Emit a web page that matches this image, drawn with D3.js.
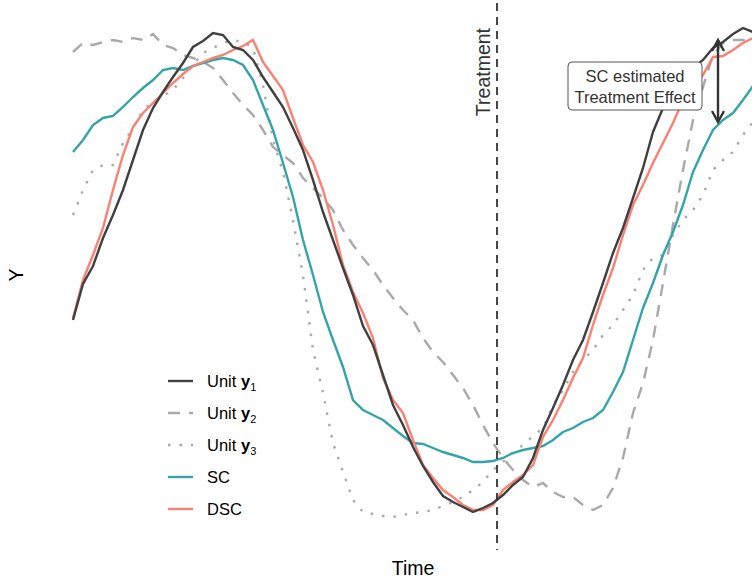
<!DOCTYPE html>
<html>
<head>
<meta charset="utf-8">
<script src="https://cdn.jsdelivr.net/npm/d3@7"></script>
<style>
  body { margin: 0; background: #fff; }
  text { font-family: "Liberation Sans", Arial, sans-serif; }
</style>
</head>
<body>
<div id="plot-container"></div>
<script>

// one value per time step (69 steps)
var unitY1 = [44, 51.2, 54.8, 60.4, 65, 70, 76, 82, 86.4, 89.6,
              92.6, 95.4, 98.6, 99.8, 101.4, 101, 98.6, 98, 96, 92.6,
              89.6, 86.6, 82.4, 78, 72, 65.6, 60, 54.4, 49, 42.8,
              39, 33, 27, 23, 18.6, 14.8, 11.6, 8.8, 7.6, 6.6,
              5.6, 6.4, 7.4, 9, 11, 12.6, 16.4, 22, 26.4, 31,
              36, 40, 45.6, 51.4, 57.4, 62.4, 68.4, 74.4, 81.6, 86.4,
              90, 92.8, 94.4, 96, 98.4, 99.6, 101.2, 102.4, 101.6];

var unitY2 = [97.6, 99.4, 99, 99.6, 100, 99.6, 100.4, 100, 101.2, 99,
              98.4, 97, 96.4, 95.6, 94.4, 92, 89.4, 87, 85, 82,
              78.6, 77, 75.4, 72.4, 70.4, 68.4, 66, 62, 59, 56.4,
              54, 51, 48.4, 46, 44, 40.4, 37.6, 35.6, 33, 30.4,
              27, 23, 19.4, 16.4, 14, 12, 10.6, 11.4, 9.6, 8.6,
              8.6, 7, 6, 7, 10.4, 16.4, 25.4, 31.4, 40, 51.4,
              63, 74, 84, 90.6, 97, 99.4, 100, 100, 99.4];

var unitY3 = [65, 70, 74, 75, 75, 79.4, 82.4, 86, 87.6, 88.8,
              90, 92.4, 95, 97.4, 98.4, 99.4, 100, 99.6, 98.4, 91,
              80, 73.6, 64, 53, 38, 29.4, 19.4, 13.6, 8, 5.6,
              5.2, 4.8, 4.6, 5, 5.4, 5.6, 6, 6.8, 7.6, 8.6,
              10, 11.6, 14, 15.6, 17.6, 19, 20.8, 22.4, 27, 30,
              33.6, 36, 38, 41, 43, 46, 49, 54, 56.4, 57,
              61, 64, 66, 69, 74, 76, 77.6, 81, 83.6];

var scValues = [77.6, 80, 83, 84.4, 84.8, 86.6, 88.6, 90.4, 92, 94,
                94.4, 94, 94.8, 95.4, 96, 96.4, 96, 95, 92, 87,
                82, 75.4, 68.6, 60, 53, 45.6, 40, 34.6, 28, 26,
                25, 24, 22.4, 20.8, 19.4, 19.2, 18.4, 17.6, 17, 16.4,
                15.6, 15.6, 15.8, 16.4, 17.4, 18, 18.4, 18.8, 20, 21.6,
                22.4, 23.6, 24.4, 26, 29.6, 33.6, 40, 46.4, 51.4, 57,
                61.6, 67, 73.6, 78, 82, 84, 85.4, 88, 90.8];

var dscValues = [44.4, 52, 57, 62.4, 70, 77, 82.6, 85.4, 87.4, 89.4,
                 91.4, 93.2, 94.8, 95.6, 96.4, 97, 98, 98.8, 100, 95.6,
                 92.8, 90, 84.4, 79, 75.6, 70, 63, 55, 49.6, 45.4,
                 40.4, 32.4, 28, 25.4, 20, 15, 12.4, 10, 8.6, 7,
                 6, 6, 7, 10, 11.6, 13, 15, 20.6, 24, 28,
                 32.4, 36.4, 43, 49, 54.4, 61, 67, 71, 75.4, 79.4,
                 83.4, 88, 90.8, 93, 96.6, 96.8, 98, 99.4, 100.4];

var legendLabels = ["y1", "y2", "y3", "SC", "DSC"];

// treatment time and the SC effect arrow (time, top value, bottom value)
var treatmentTime = 42.4;
var effectArrow = [64.5, 100, 83.6];
var effectLabel = ["SC estimated", "Treatment Effect"];
var effectLabelPos = [56.2, 90.8];

var width = 752, height = 580;

var x = d3.scaleLinear().domain([0, 68]).range([73, 753]);
var y = d3.scaleLinear().domain([0, 100]).range([540, 40]);

var svg = d3.select("#plot-container")
            .append("svg")
            .attr("width", width)
            .attr("height", height);

var line = d3.line()
             .x(function(d, i){ return x(i); })
             .y(function(d){ return y(d); });

var styles = {
  y1:  {values: unitY1,   color: "#404040", dash: null},
  y2:  {values: unitY2,   color: "#a9a9a9", dash: "12 9"},
  y3:  {values: unitY3,   color: "#a9a9a9", dash: "2.5 9"},
  SC:  {values: scValues, color: "#34a4a9", dash: null},
  DSC: {values: dscValues, color: "#fa8072", dash: null}
};

// draw order: dark unit line on top
var drawOrder = ["y2", "y3", "SC", "DSC", "y1"];

svg.append("g")
   .selectAll("path")
   .data(drawOrder)
   .enter()
   .append("path")
   .attr("fill", "none")
   .attr("stroke", function(k){ return styles[k].color; })
   .attr("stroke-width", 2.4)
   .attr("stroke-dasharray", function(k){ return styles[k].dash; })
   .attr("d", function(k){ return line(styles[k].values); });

// treatment line
svg.append("line")
   .attr("x1", x(treatmentTime)).attr("x2", x(treatmentTime))
   .attr("y1", 3).attr("y2", 550)
   .attr("stroke", "#333")
   .attr("stroke-width", 1.8)
   .attr("stroke-dasharray", "8 6");

svg.append("text")
   .attr("transform", "translate(" + (x(treatmentTime) - 7) + ",28) rotate(-90)")
   .attr("text-anchor", "end")
   .attr("fill", "#333")
   .style("font-size", "19.5px")
   .text("Treatment");

// effect arrow
var ax = x(effectArrow[0]);
var ay1 = y(effectArrow[1]);
var ay2 = y(effectArrow[2]);
var arrow = svg.append("g")
               .attr("stroke", "#333")
               .attr("stroke-width", 2.4)
               .attr("fill", "none");
arrow.append("line")
     .attr("x1", ax).attr("x2", ax)
     .attr("y1", ay1).attr("y2", ay2);
arrow.append("path")
     .attr("d", "M" + (ax - 6) + "," + (ay1 + 11) + "L" + ax + "," + ay1 + "L" + (ax + 6) + "," + (ay1 + 11));
arrow.append("path")
     .attr("d", "M" + (ax - 6) + "," + (ay2 - 11) + "L" + ax + "," + ay2 + "L" + (ax + 6) + "," + (ay2 - 11));

// label box
var lx = x(effectLabelPos[0]);
var ly = y(effectLabelPos[1]);
svg.append("rect")
   .attr("x", lx - 67).attr("y", ly - 24)
   .attr("width", 134).attr("height", 48)
   .attr("rx", 4)
   .attr("fill", "#fff")
   .attr("stroke", "#555")
   .attr("stroke-width", 1);

svg.selectAll(".effect-label")
   .data(effectLabel)
   .enter()
   .append("text")
   .attr("class", "effect-label")
   .attr("x", lx)
   .attr("y", function(d, i){ return ly - 4.5 + i * 21.5; })
   .attr("text-anchor", "middle")
   .attr("fill", "#333")
   .style("font-size", "16.5px")
   .text(function(d){ return d; });

// axis titles
svg.append("text")
   .attr("x", 413).attr("y", 575)
   .attr("text-anchor", "middle")
   .style("font-size", "19.5px")
   .text("Time");

svg.append("text")
   .attr("transform", "translate(23,275) rotate(-90)")
   .attr("text-anchor", "middle")
   .style("font-size", "19.5px")
   .text("Y");

// legend
var legend = svg.append("g")
                .selectAll("g")
                .data(legendLabels)
                .enter()
                .append("g")
                .attr("transform", function(d, i){ return "translate(0," + (381 + i * 32) + ")"; });

legend.append("line")
      .attr("x1", 168).attr("x2", 193)
      .attr("stroke", function(k){ return styles[k].color; })
      .attr("stroke-width", 2.4)
      .attr("stroke-dasharray", function(k){ return styles[k].dash; });

var legendText = legend.append("text")
                       .attr("x", 207)
                       .attr("dy", "0.35em")
                       .style("font-size", "16.5px");

legendText.each(function(k){
  var t = d3.select(this);
  if (k.charAt(0) === "y") {
    t.append("tspan").text("Unit ");
    t.append("tspan").style("font-weight", "bold").text("y");
    t.append("tspan").style("font-size", "11px").attr("dy", 4).text(k.charAt(1));
  } else {
    t.text(k);
  }
});

</script>
</body>
</html>
